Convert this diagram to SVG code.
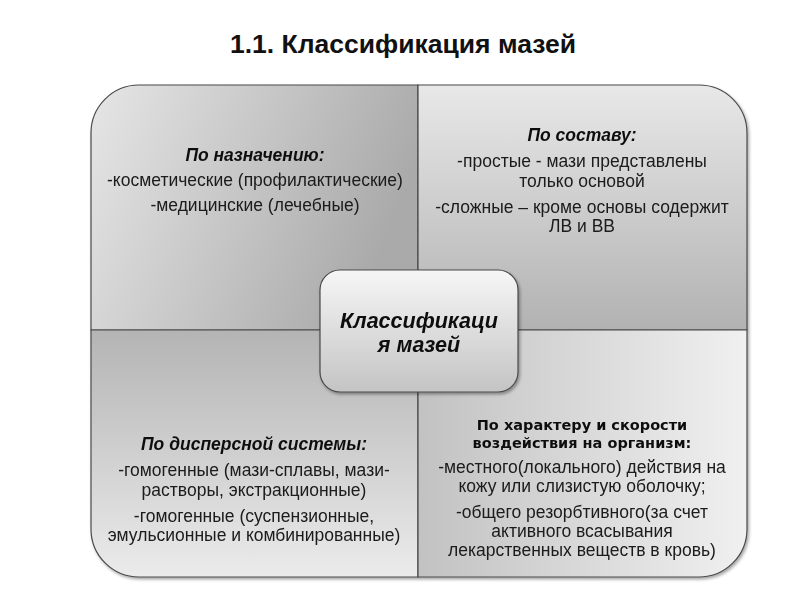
<svg xmlns="http://www.w3.org/2000/svg" width="800" height="600" viewBox="0 0 800 600">
<defs>
<linearGradient id="gTL" x1="0" y1="0" x2="1" y2="0.3"><stop offset="0" stop-color="#e6e6e6"/><stop offset="1" stop-color="#aaaaaa"/></linearGradient>
<linearGradient id="gTR" x1="0" y1="0" x2="0" y2="1"><stop offset="0" stop-color="#e8e8e8"/><stop offset="1" stop-color="#b2b2b2"/></linearGradient>
<linearGradient id="gBL" x1="0" y1="0" x2="0" y2="1"><stop offset="0" stop-color="#b4b4b4"/><stop offset="1" stop-color="#ebebeb"/></linearGradient>
<linearGradient id="gBR" x1="0" y1="0" x2="1" y2="0"><stop offset="0" stop-color="#c2c2c2"/><stop offset="1" stop-color="#f0f0f0"/></linearGradient>
<linearGradient id="gC" x1="0" y1="0" x2="0" y2="1"><stop offset="0" stop-color="#f6f6f6"/><stop offset="1" stop-color="#c4c4c4"/></linearGradient>
<filter id="sh" x="-10%" y="-10%" width="120%" height="120%"><feDropShadow dx="1.5" dy="2" stdDeviation="1.5" flood-color="#000" flood-opacity="0.35"/></filter>
</defs>
<style>
.q{stroke:#4a4a4a;stroke-width:1.2}
.t{font-family:"Liberation Sans",Arial,sans-serif;font-size:17.5px;fill:#1a1a1a;text-anchor:middle}
.h{font-family:"Liberation Sans",Arial,sans-serif;font-size:17.5px;font-weight:bold;font-style:italic;fill:#111;text-anchor:middle}
.hb{font-family:"DejaVu Sans",Verdana,sans-serif;font-size:14.5px;font-weight:bold;fill:#111;text-anchor:middle}
.title{font-family:"Liberation Sans",Arial,sans-serif;font-size:26.5px;font-weight:bold;fill:#111;text-anchor:middle}
.c{font-family:"Liberation Sans",Arial,sans-serif;font-size:21.5px;font-weight:bold;font-style:italic;fill:#111;text-anchor:middle}
</style>
<rect width="800" height="600" fill="#ffffff"/>
<text class="title" x="403" y="53">1.1. Классификация мазей</text>
<g filter="url(#sh)">
<g id="q-tl">
<path class="q" fill="url(#gTL)" d="M91,330 V133 A48,48 0 0 1 139,85 H418 V330 Z"/>
<text class="h" x="255" y="161">По назначению:</text>
<text class="t" x="255" y="186">-косметические (профилактические)</text>
<text class="t" x="255" y="211">-медицинские (лечебные)</text>
</g>
<g id="q-tr">
<path class="q" fill="url(#gTR)" d="M418,85 H699 A48,48 0 0 1 747,133 V330 H418 Z"/>
<text class="h" x="582" y="141">По составу:</text>
<text class="t" x="582" y="167">-простые - мази представлены</text>
<text class="t" x="582" y="187">только основой</text>
<text class="t" x="582" y="213">-сложные – кроме основы содержит</text>
<text class="t" x="582" y="232">ЛВ и ВВ</text>
</g>
<g id="q-bl">
<path class="q" fill="url(#gBL)" d="M91,330 H418 V577 H139 A48,48 0 0 1 91,529 Z"/>
<text class="h" x="254" y="450">По дисперсной системы:</text>
<text class="t" x="254" y="476">-гомогенные (мази-сплавы, мази-</text>
<text class="t" x="254" y="496">растворы, экстракционные)</text>
<text class="t" x="254" y="522">-гомогенные (суспензионные,</text>
<text class="t" x="254" y="541">эмульсионные и комбинированные)</text>
</g>
<g id="q-br">
<path class="q" fill="url(#gBR)" d="M418,330 H747 V529 A48,48 0 0 1 699,577 H418 Z"/>
<text class="hb" x="582" y="430">По характеру и скорости</text>
<text class="hb" x="582" y="448">воздействия на организм:</text>
<text class="t" x="582" y="473">-местного(локального) действия на</text>
<text class="t" x="582" y="492">кожу или слизистую оболочку;</text>
<text class="t" x="582" y="518">-общего резорбтивного(за счет</text>
<text class="t" x="582" y="537">активного всасывания</text>
<text class="t" x="582" y="556">лекарственных веществ в кровь)</text>
</g>
</g>
<g id="center" filter="url(#sh)">
<rect x="320" y="270" width="198" height="122" rx="20" fill="url(#gC)" stroke="#4a4a4a" stroke-width="1.2"/>
<text class="c" x="419" y="328">Классификаци</text>
<text class="c" x="419" y="352">я мазей</text>
</g>
</svg>
